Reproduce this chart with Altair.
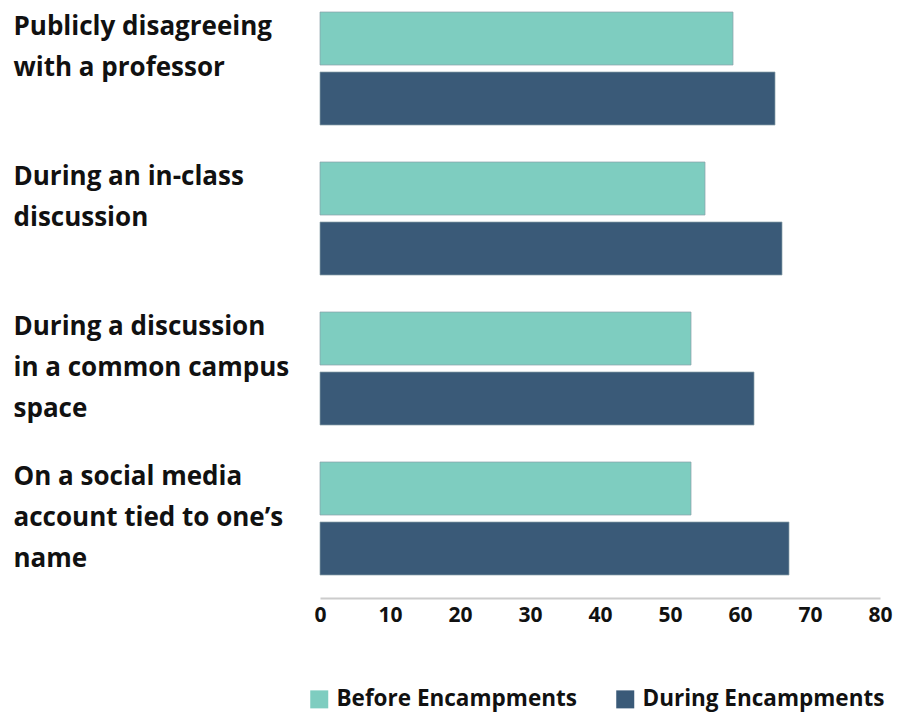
import altair as alt
import pandas as pd

categories = [
    "Publicly disagreeing|with a professor",
    "During an in-class|discussion",
    "During a discussion|in a common campus|space",
    "On a social media|account tied to one’s|name",
]
series = ["Before Encampments", "During Encampments"]
before = [59, 55, 53, 53]
during = [65, 66, 62, 67]
colors = ["#7ECDC0", "#3A5A78"]
ticks = [0, 10, 20, 30, 40, 50, 60, 70, 80]

rows = []
for c, b, d in zip(categories, before, during):
    rows.append({"cat": c, "series": series[0], "value": b})
    rows.append({"cat": c, "series": series[1], "value": d})
df = pd.DataFrame(rows)

FONT = "Open Sans"

chart = (
    alt.Chart(df)
    .mark_bar(stroke="#8aa0a8", strokeWidth=1, strokeOpacity=0.7)
    .encode(
        y=alt.Y(
            "cat:N",
            sort=categories,
            scale=alt.Scale(paddingInner=37 / 150, paddingOuter=0),
            axis=alt.Axis(
                title=None,
                domain=False,
                ticks=False,
                tickSize=0,
                labelAlign="left",
                labelBaseline="top",
                labelPadding=307,
                labelOffset=-55,
                labelLimit=320,
                labelFont=FONT,
                labelFontWeight="bold",
                labelFontSize=26,
                labelLineHeight=41,
                labelColor="#111111",
                labelExpr="split(datum.label, '|')",
            ),
        ),
        yOffset=alt.YOffset(
            "series:N",
            sort=series,
            scale=alt.Scale(paddingInner=7 / 60, paddingOuter=0),
        ),
        x=alt.X(
            "value:Q",
            scale=alt.Scale(domain=[0, 80], nice=False),
            axis=alt.Axis(
                title=None,
                values=ticks,
                grid=False,
                ticks=False,
                domainColor="#cccccc",
                domainWidth=2,
                offset=23,
                labelPadding=6,
                labelFont=FONT,
                labelFontWeight="bold",
                labelFontSize=21,
                labelColor="#111111",
                labelFlush=False,
            ),
        ),
        color=alt.Color(
            "series:N",
            sort=series,
            scale=alt.Scale(domain=series, range=colors),
            legend=alt.Legend(
                title=None,
                orient="none",
                legendX=-12,
                legendY=676,
                direction="horizontal",
                symbolType="square",
                symbolSize=324,
                symbolStrokeWidth=0,
                symbolOpacity=1,
                labelFont=FONT,
                labelFontWeight="bold",
                labelFontSize=22.5,
                labelColor="#111111",
                labelOffset=6,
                labelLimit=400,
                columnPadding=37,
            ),
        ),
    )
    .properties(
        width=560,
        height=563,
        autosize=alt.AutoSizeParams(type="none"),
        padding={"left": 312, "top": 4, "right": 13, "bottom": 140},
    )
    .configure_view(stroke=None)
)

chart.save("out.html", embed_options={"renderer": "svg", "actions": False})
